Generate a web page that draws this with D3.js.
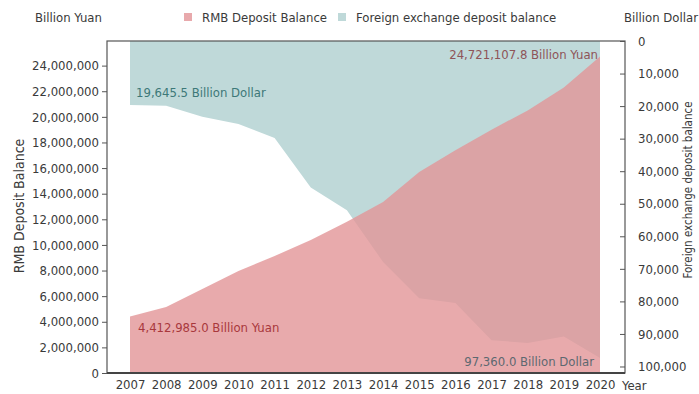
<!DOCTYPE html>
<html>
<head>
<meta charset="utf-8">
<script src="https://cdn.jsdelivr.net/npm/d3@7"></script>
<style>
  body { margin: 0; background: #fff; }
  text { font-family: "Liberation Sans Narrow", "DejaVu Sans Condensed", sans-serif; fill: #3a3a3a; }
</style>
</head>
<body>
<script>
var w = 699, h = 394;
var plot = {left: 107, right: 625, top: 41, bottom: 373};

// data
var years = [2007, 2008, 2009, 2010, 2011, 2012, 2013, 2014, 2015, 2016, 2017, 2018, 2019, 2020];
var rmb = [4412985.0, 5160000, 6560000, 7970000, 9140000, 10390000, 11800000, 13360000,
           15700000, 17400000, 19000000, 20500000, 22300000, 24721107.8];
var fx = [19645.5, 19900, 23300, 25500, 29800, 45000, 52000, 67900,
          79000, 80500, 91900, 92800, 90800, 97360.0];
var leftTicks = d3.range(0, 24000001, 2000000);
var rightTicks = d3.range(0, 100001, 10000);

var svg = d3.select('body').append('svg')
    .attr('width', w)
    .attr('height', h)

var x = d3.scaleLinear().domain([2007, 2020]).range([130, 600]);
var yL = d3.scaleLinear().domain([0, 26000000]).range([plot.bottom, 40]);
var yR = d3.scaleLinear().domain([0, 102000]).range([plot.top, plot.bottom]);

var data = years.map(function(d, i) { return {year: d, rmb: rmb[i], fx: fx[i]}; });

// foreign exchange area hangs from the top (reversed axis)
svg.append('path')
    .datum(data)
    .attr('fill', '#bfd9d9')
    .attr('d', d3.area()
        .x(function(d) { return x(d.year); })
        .y0(plot.top)
        .y1(function(d) { return yR(d.fx); }));

svg.append('path')
    .datum(data)
    .attr('fill', 'rgb(226,149,151)')
    .attr('fill-opacity', 0.8)
    .attr('d', d3.area()
        .x(function(d) { return x(d.year); })
        .y0(plot.bottom)
        .y1(function(d) { return yL(d.rmb); }));

// frame
svg.append('rect')
    .attr('x', plot.left).attr('y', plot.top)
    .attr('width', plot.right - plot.left).attr('height', plot.bottom - plot.top)
    .attr('fill', 'none').attr('stroke', '#555').attr('stroke-width', 1.2)
svg.append('line')
    .attr('x1', plot.left).attr('x2', plot.right)
    .attr('y1', plot.bottom).attr('y2', plot.bottom)
    .attr('stroke', '#444').attr('stroke-width', 2)

var axL = svg.append('g')
    .attr('transform', 'translate(' + plot.left + ',0)')
    .call(d3.axisLeft(yL).tickValues(leftTicks).tickFormat(d3.format(',')).tickSize(5).tickPadding(3));
var axR = svg.append('g')
    .attr('transform', 'translate(' + plot.right + ',0)')
    .call(d3.axisRight(yR).tickValues(rightTicks).tickFormat(d3.format(',')).tickSize(-5).tickPadding(13));
[axL, axR].forEach(function(a) {
    a.select('.domain').remove();
    a.selectAll('line').attr('stroke', '#555');
    a.selectAll('text').style('font-size', '13px').attr('fill', '#3a3a3a');
});

var axX = svg.append('g')
    .attr('transform', 'translate(0,' + plot.bottom + ')')
    .call(d3.axisBottom(x).tickValues(years).tickFormat(d3.format('d')).tickSize(0).tickPadding(7));
axX.select('.domain').remove();
axX.selectAll('text').style('font-size', '13px').attr('fill', '#3a3a3a');

svg.append('text').attr('x', 622).attr('y', 390).style('font-size', '13px').text('Year');

// unit labels
svg.append('text').attr('x', 35).attr('y', 22).style('font-size', '13px').text('Billion Yuan');
svg.append('text').attr('x', 624).attr('y', 22).style('font-size', '13px').text('Billion Dollar');

// axis titles
svg.append('text')
    .attr('transform', 'translate(24,206) rotate(-90)')
    .attr('text-anchor', 'middle').style('font-size', '14px')
    .text('RMB Deposit Balance');
svg.append('text')
    .attr('transform', 'translate(692,190) rotate(-90)')
    .attr('text-anchor', 'middle').style('font-size', '11.5px')
    .text('Foreign exchange deposit balance');

// legend
var legend = [{name: 'RMB Deposit Balance', color: '#e8a9ac', x: 184},
              {name: 'Foreign exchange deposit balance', color: '#bfd9d9', x: 338}];
var lg = svg.selectAll('.legend').data(legend).enter().append('g')
    .attr('class', 'legend')
    .attr('transform', function(d) { return 'translate(' + d.x + ',13)'; });
lg.append('rect').attr('width', 8).attr('height', 8).attr('fill', function(d) { return d.color; });
lg.append('text').attr('x', 18).attr('y', 9).style('font-size', '13px').text(function(d) { return d.name; });

// annotations
var first = data[0], last = data[data.length - 1];
svg.append('text').attr('x', 136).attr('y', yR(first.fx) - 8)
    .style('font-size', '13px').style('fill', '#3d7878')
    .text(d3.format(',.1f')(first.fx) + ' Billion Dollar');
svg.append('text').attr('x', 138).attr('y', yL(first.rmb) + 16)
    .style('font-size', '13px').style('fill', '#a8383c')
    .text(d3.format(',.1f')(first.rmb) + ' Billion Yuan');
svg.append('text').attr('x', 598).attr('y', 59).attr('text-anchor', 'end')
    .style('font-size', '13px').style('fill', '#8e5458')
    .text(d3.format(',.1f')(last.rmb) + ' Billion Yuan');
svg.append('text').attr('x', 594).attr('y', 366).attr('text-anchor', 'end')
    .style('font-size', '13px').style('fill', '#5d6870')
    .text(d3.format(',.1f')(last.fx) + ' Billion Dollar');
</script>
</body>
</html>
